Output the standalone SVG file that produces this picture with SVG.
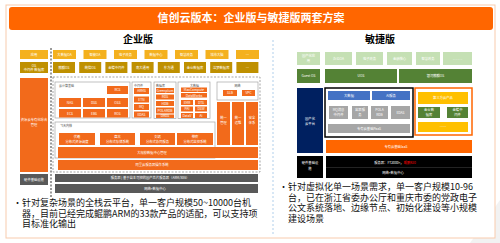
<svg xmlns="http://www.w3.org/2000/svg" width="500" height="243" viewBox="0 0 500 243">
<style>
text{font-family:"Noto Sans CJK SC","Noto Sans",sans-serif}
.t{fill:#fff;font-size:3.3px;text-anchor:middle}
.cap{fill:#555;font-size:3px}
.or{fill:#F26A1B}
.ye{fill:#F4B11E}
.ol{fill:#BF9000}
.gy{fill:#595959}
.lg{fill:#C5E0B4}
.dg{fill:#548235}
.bl{fill:#4472C4}
.nv{fill:#002060}
.gr{fill:#A6A6A6}
.bk{fill:#000}
.yl{fill:#FFC000}
.box{fill:#fff;stroke:#A6A6A6;stroke-width:0.7}
.body{fill:#111;font-size:9px}
.hd{fill:#000;font-size:10px;font-weight:bold;text-anchor:middle}
</style>
<rect x="0" y="0" width="500" height="243" fill="#fff"/>
<polygon points="470,243 500,200 500,243" fill="#F2F2F2"/>
<rect x="6" y="5" width="489" height="233" fill="#fff" stroke="#F8CBAD" stroke-width="1"/>
<g id="title">
<rect x="9" y="7" width="484" height="23" rx="3" fill="#FF6600"/>
<text x="251" y="22" fill="#fff" font-size="11" font-weight="bold" text-anchor="middle">信创云版本：企业版与敏捷版两套方案</text>
</g>
<g id="connectors">
<line x1="51" y1="48" x2="51" y2="198" stroke="#000" stroke-width="0.8" stroke-dasharray="2,1.5"/>
<line x1="273" y1="40" x2="273" y2="236" stroke="#9DC3E6" stroke-width="0.8" stroke-dasharray="2,2"/>
</g>
<g id="enterprise">
<text class="hd" x="138" y="43">企业版</text>
<g id="ent-left">
<rect class="ye" x="20" y="50" width="28" height="9"/><text class="t" x="34" y="55.8">应用</text>
<rect class="ol" x="20" y="62" width="28" height="11"/><text class="t" x="34" y="66.6">OS</text><text class="t" x="34" y="71">中间件 数据库</text>
<rect class="or" x="20" y="78" width="28" height="94"/><text class="t" x="34" y="121">资源云专有化综合</text><text class="t" x="34" y="125.8">管理</text>
<rect class="gy" x="20" y="174" width="28" height="11"/><text class="t" x="34" y="180.8">硬件基础设施</text>
</g>
<g id="ent-apps">
<rect class="ye" x="53" y="50" width="23" height="9"/><text class="t" x="64.5" y="55.8">大数据OA</text>
<rect class="ye" x="83.5" y="50" width="23" height="9"/><text class="t" x="95" y="55.8">智能OA</text>
<rect class="ye" x="114" y="50" width="23" height="9"/><text class="t" x="125.5" y="55.8">电子政务</text>
<rect class="ye" x="144.5" y="50" width="23" height="9"/><text class="t" x="156" y="55.8">数据中心</text>
<rect class="ye" x="175" y="50" width="23" height="9"/><text class="t" x="186.5" y="55.8">智慧政务</text>
<rect class="ye" x="205.5" y="50" width="23" height="9"/><text class="t" x="217" y="55.8">城市大脑</text>
<rect class="ye" x="236" y="50" width="23" height="9"/><text class="t" x="247.5" y="55.8">…</text>
</g>
<g id="ent-os">
<rect class="ol" x="53" y="62" width="22" height="11"/><text class="t" x="64" y="68.8">麒麟OS</text>
<rect class="ol" x="79.2" y="62" width="22" height="11"/><text class="t" x="90.2" y="68.8">统信OS</text>
<rect class="ol" x="105.4" y="62" width="22" height="11"/><text class="t" x="116.4" y="68.8">金蝶中间件</text>
<rect class="ol" x="131.6" y="62" width="22" height="11"/><text class="t" x="142.6" y="68.8">南大通用</text>
<rect class="ol" x="157.8" y="62" width="22" height="11"/><text class="t" x="168.8" y="68.8">东方通</text>
<rect class="ol" x="184" y="62" width="22" height="11"/><text class="t" x="195" y="68.8">金仓数据库</text>
<rect class="ol" x="210.2" y="62" width="22" height="11"/><text class="t" x="221.2" y="68.8">达梦数据库</text>
<rect class="ol" x="236.4" y="62" width="22" height="11"/><text class="t" x="247.4" y="68.8">…</text>
</g>
<g id="ent-cloud">
<rect x="53" y="77" width="207" height="95" fill="none" stroke="#7F7F7F" stroke-width="0.7" stroke-dasharray="2,1.5"/>
<g id="iaas">
<rect class="box" x="55" y="82" width="75" height="36"/><text class="cap" x="59" y="86.5">云计算基础</text>
<rect class="or" x="107" y="86" width="21" height="8"/><text class="t" x="117.5" y="91.2">RCS</text>
<rect class="or" x="59" y="98" width="22" height="9"/><text class="t" x="70" y="103.7">NAS</text>
<rect class="or" x="83" y="98" width="22" height="9"/><text class="t" x="94" y="103.7">DSS</text>
<rect class="or" x="107" y="98" width="21" height="9"/><text class="t" x="117.5" y="103.7">OSS</text>
<rect class="or" x="59" y="109" width="22" height="8.5"/><text class="t" x="70" y="114.5">ECS</text>
<rect class="or" x="83" y="109" width="22" height="8.5"/><text class="t" x="94" y="114.5">EBS</text>
<rect class="or" x="107" y="109" width="21" height="8.5"/><text class="t" x="117.5" y="114.5">ROS</text>
</g>
<g id="middleware">
<rect class="box" x="132" y="82" width="19" height="36"/><text class="cap" x="134" y="86.5">中间件</text>
<rect class="or" x="134" y="88" width="15" height="6"/><text class="t" x="141.5" y="92.2">ARMS</text>
<rect class="or" x="134" y="96.5" width="15" height="6"/><text class="t" x="141.5" y="100.7">ETN</text>
<rect class="or" x="134" y="104" width="15" height="6"/><text class="t" x="141.5" y="108.2">MQ</text>
<rect class="or" x="134" y="111.5" width="15" height="6"/><text class="t" x="141.5" y="115.7">EDAS</text>
</g>
<g id="database">
<rect class="box" x="154" y="82" width="22" height="36.5"/><text class="cap" x="156" y="86.5">数据库</text>
<rect class="or" x="156" y="88" width="18" height="5"/><text class="t" x="165" y="91.7" font-size="3">Greenplum</text>
<rect class="or" x="156" y="94.5" width="18" height="5"/><text class="t" x="165" y="98.2">RDS</text>
<rect class="or" x="156" y="101" width="18" height="5"/><text class="t" x="165" y="104.7">HDB</text>
<rect class="or" x="156" y="107.5" width="18" height="6"/><text class="t" x="165" y="111.7">POLARDB</text>
<rect class="or" x="156" y="114.5" width="18" height="3.5"/><text class="t" x="165" y="117.3" font-size="2.8">DRDS</text>
</g>
<g id="bigdata">
<rect class="box" x="178" y="82" width="32" height="36.5"/><text class="cap" x="190" y="86.5">大数据</text>
<rect class="or" x="181" y="87.5" width="26" height="4.5"/><text class="t" x="194" y="91">MaxCompute</text>
<rect class="or" x="181" y="93" width="26" height="4.5"/><text class="t" x="194" y="96.5">DataWorks</text>
<rect class="or" x="181" y="100" width="12" height="5"/><text class="t" x="187" y="103.7">EMR</text>
<rect class="or" x="195" y="100" width="12" height="5"/><text class="t" x="201" y="103.7">DTS</text>
<rect class="or" x="181" y="106.5" width="12" height="5"/><text class="t" x="187" y="110.2">PAI</text>
<rect class="or" x="195" y="106.5" width="12" height="5"/><text class="t" x="201" y="110.2">DSW</text>
<rect class="or" x="181" y="113" width="12" height="5"/><text class="t" x="187" y="116.7">DataV</text>
<rect class="or" x="195" y="113" width="12" height="5"/><text class="t" x="201" y="116.7">Ai</text>
</g>
<g id="network">
<rect class="box" x="217" y="82" width="41" height="18"/><text class="cap" x="237.5" y="86.5" text-anchor="middle">网络</text>
<rect class="or" x="223" y="90" width="14" height="6"/><text class="t" x="230" y="94.2">SLB</text>
<rect class="or" x="242" y="90" width="13" height="6"/><text class="t" x="248.5" y="94.2">VPC</text>
</g>
<g id="ops">
<rect class="or" x="217" y="102" width="13" height="43"/><text class="t" x="223.5" y="119">统一</text><text class="t" x="223.5" y="124">管理</text>
<rect class="or" x="232" y="102" width="12" height="43"/><text class="t" x="238" y="119">统一</text><text class="t" x="238" y="124">运维</text>
<rect class="or" x="246" y="102" width="12" height="43"/><text class="t" x="252" y="119">安全</text><text class="t" x="252" y="124">体系</text>
</g>
<g id="kernel">
<rect class="box" x="55" y="122" width="160" height="36"/><text class="cap" x="60" y="126.5">飞天内核</text>
<rect class="or" x="59" y="133" width="36" height="12"/><text class="t" x="77" y="138">伏羲</text><text class="t" x="77" y="142.8">分布式资源调度</text>
<rect class="or" x="100" y="133" width="35" height="12"/><text class="t" x="117.5" y="138">盘古</text><text class="t" x="117.5" y="142.8">分布式存储系统</text>
<rect class="or" x="140" y="133" width="35" height="12"/><text class="t" x="157.5" y="138">女娲</text><text class="t" x="157.5" y="142.8">分布式协同服务</text>
<rect class="or" x="177" y="133" width="36" height="12"/><text class="t" x="195" y="138">神农</text><text class="t" x="195" y="142.8">分布式监控系统</text>
<rect class="or" x="58" y="147" width="200" height="11"/><text class="t" x="152" y="153.7">大规模数据中心管理</text>
</g>
<g id="os-bar">
<rect class="or" x="58" y="160" width="200" height="10"/><text class="t" x="152" y="166.2">阿里云服务器操作系统</text>
</g>
</g>
<g id="ent-hw">
<rect class="gy" x="55" y="174" width="203" height="8"/><text class="t" x="150" y="179.2">服务器 | 基于自主可控的国产芯片服务器（ARM/X86）</text>
<rect class="gy" x="55" y="184" width="203" height="9"/><text class="t" x="155" y="189.7">网络+数据中心</text>
</g>
<g id="ent-note">
<text class="body" x="13" y="206">•</text>
<text class="body" x="22" y="206">针对复杂场景的全栈云平台，单一客户规模50~10000台机</text>
<text class="body" x="22" y="216.5">器，目前已经完成鲲鹏ARM的33款产品的适配，可以支持项</text>
<text class="body" x="22" y="227">目标准化输出</text>
</g>
</g>
<g id="agile">
<text class="hd" x="380" y="43">敏捷版</text>
<g id="agi-apps">
<rect class="lg" x="297" y="52" width="23" height="13"/><text class="t" x="308.5" y="57.3">国产化应</text><text class="t" x="308.5" y="62.2">用</text>
<rect class="lg" x="325" y="52" width="27" height="13"/><text class="t" x="338.5" y="59.7">办公OA</text>
<rect class="lg" x="356" y="52" width="27" height="13"/><text class="t" x="369.5" y="59.7">电子政务</text>
<rect class="lg" x="387" y="52" width="25" height="13"/><text class="t" x="399.5" y="59.7">金融核心</text>
<rect class="lg" x="416" y="52" width="24" height="13"/><text class="t" x="428" y="59.7">智慧政务</text>
<rect class="lg" x="443" y="52" width="29" height="13"/><text class="t" x="457.5" y="59.7">. . . . . .</text>
</g>
<g id="agi-os">
<rect class="dg" x="297" y="69" width="23" height="14"/><text class="t" x="308.5" y="77.3">Guest OS</text>
<rect class="dg" x="325" y="69" width="72" height="14"/><text class="t" x="361" y="77.3">UOS</text>
<rect class="dg" x="399" y="69" width="73" height="14"/><text class="t" x="435.5" y="77.3">银河麒麟OS</text>
</g>
<g id="agi-platform">
<rect class="nv" x="297" y="88" width="26" height="65"/><text class="t" x="310" y="120">国产化</text><text class="t" x="310" y="125">云平台</text>
</g>
<g id="agi-paas">
<rect x="325" y="88" width="88" height="49" fill="#fff" stroke="#000" stroke-width="1.5"/>
<rect class="bl" x="328" y="91" width="42" height="9"/><text class="t" x="349" y="96.7">大数据</text>
<rect class="bl" x="372" y="91" width="38" height="9"/><text class="t" x="391" y="96.7">AI服务</text>
<rect class="gr" x="329" y="106" width="19" height="13"/><text class="t" x="338.5" y="111.3">MQ消息</text><text class="t" x="338.5" y="116.2">中间件</text>
<rect class="gr" x="352" y="106" width="16" height="13"/><text class="t" x="360" y="111.3">容器服</text><text class="t" x="360" y="116.2">务</text>
<rect class="gr" x="371" y="106" width="17" height="13"/><text class="t" x="379.5" y="111.3">POLA</text><text class="t" x="379.5" y="116.2">RDB</text>
<rect class="gr" x="391" y="106" width="19" height="13"/><text class="t" x="400.5" y="113.6">EDAS</text>
<rect class="gr" x="328" y="124" width="82" height="9"/><text class="t" x="369" y="129.8">专有云基础PaaS</text>
</g>
<g id="agi-third">
<rect x="415" y="88" width="57" height="47" fill="#fff" stroke="#FF6600" stroke-width="1.5"/>
<rect class="yl" x="418" y="92" width="50" height="12"/><text class="t" x="443" y="99.3">第三方云产品</text>
<rect class="dg" x="418" y="107" width="22" height="11"/><text class="t" x="429" y="111.3">金仓数</text><text class="t" x="429" y="116.1">据库</text>
<rect class="dg" x="447" y="107" width="21" height="11"/><text class="t" x="457.5" y="111.3">金蝶中</text><text class="t" x="457.5" y="116.1">间件</text>
<rect class="yl" x="418" y="122" width="50" height="10"/><text class="t" x="443" y="128.2">……</text>
</g>
<g id="agi-iaas">
<rect x="326" y="140" width="146" height="13" fill="#FF6600"/><text class="t" x="396" y="147.7">专有云基础IaaS</text>
</g>
<g id="agi-hw">
<rect class="bk" x="297" y="156" width="26" height="22"/><text class="t" x="310" y="164.3">硬件基础设</text><text class="t" x="310" y="169.5">施</text>
<rect class="bk" x="326" y="156" width="146" height="22"/>
<line x1="326" y1="167.5" x2="472" y2="167.5" stroke="#595959" stroke-width="0.4"/>
<text class="t" x="395" y="163.5">服务器：FT2000+，<tspan fill="#FF0000">鲲鹏920</tspan></text>
<text class="t" x="393" y="174">网络+数据中心</text>
</g>
<g id="agi-note">
<text class="body" x="279" y="190">•</text>
<text class="body" x="288" y="190">针对虚拟化单一场景需求，单一客户规模10-96</text>
<text class="body" x="288" y="200.5">台，已在浙江省委办公厅和重庆市委的党政电子</text>
<text class="body" x="288" y="211">公文系统落地、边缘节点、初始化建设等小规模</text>
<text class="body" x="288" y="221.5">建设场景</text>
</g>
</g>
</svg>
